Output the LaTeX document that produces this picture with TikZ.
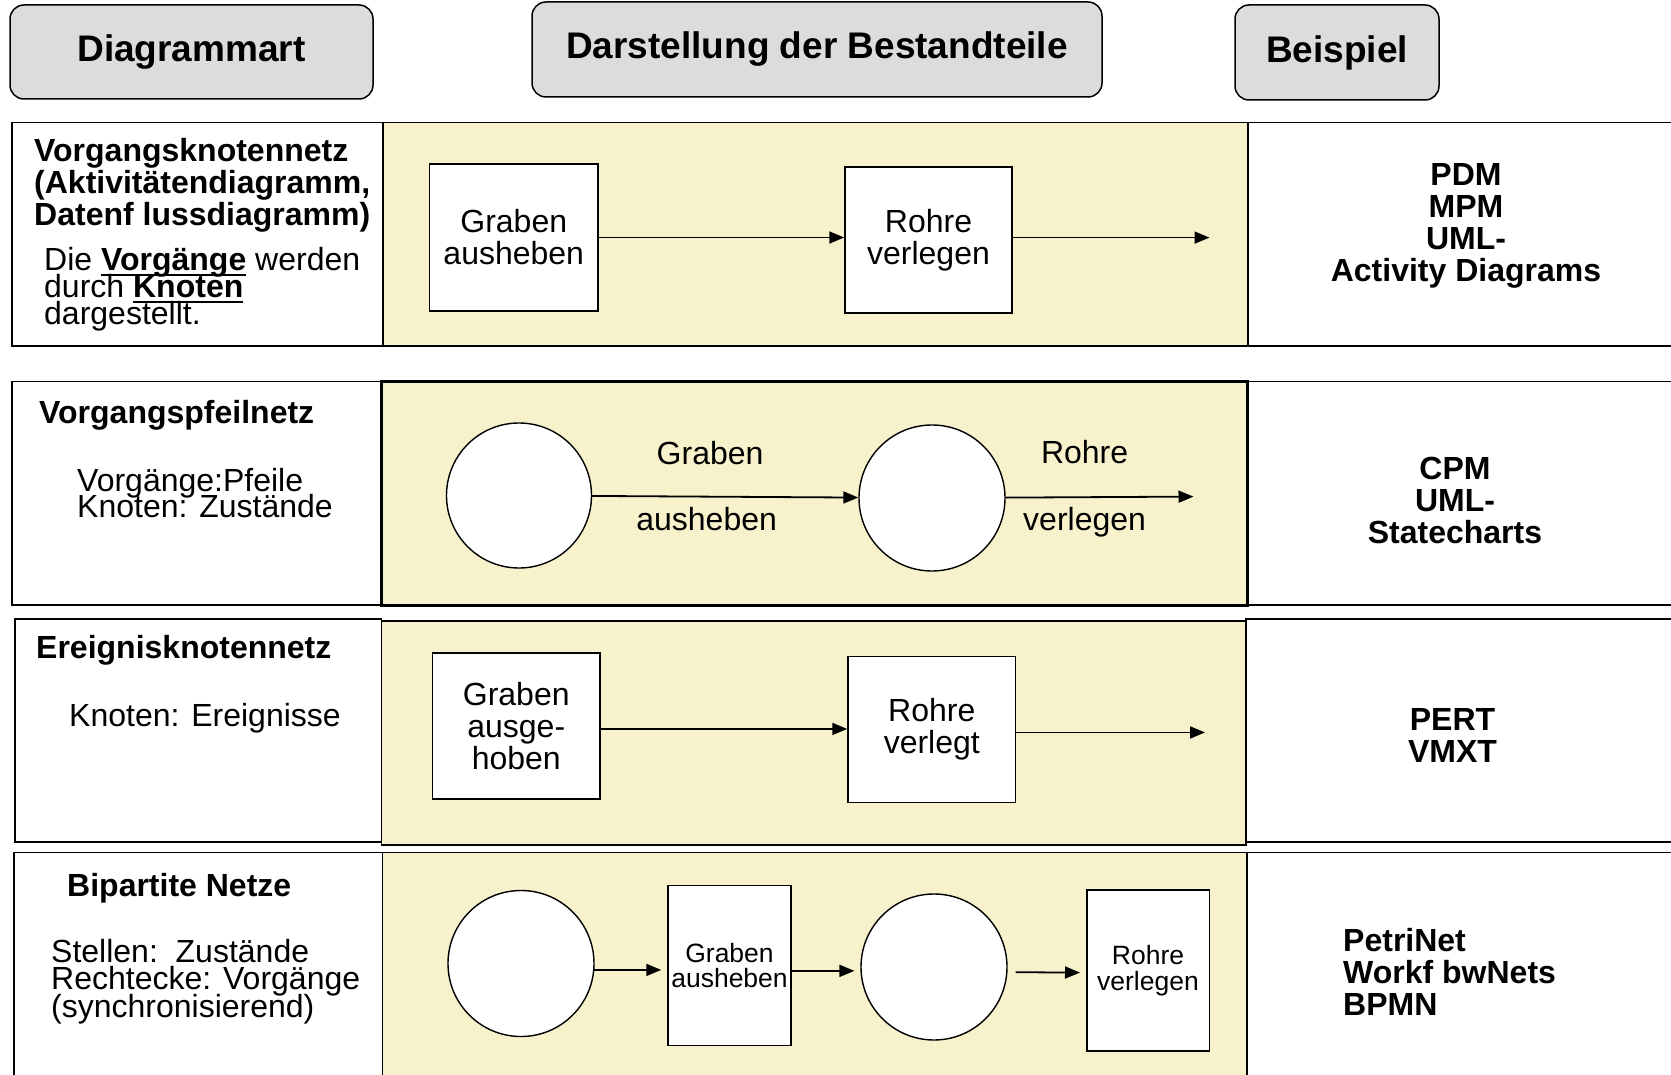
\documentclass[tikz,border=0pt]{standalone}
\usepackage{fontspec}
\setmainfont{Liberation Sans}
\usetikzlibrary{arrows.meta}
\definecolor{cellyellow}{RGB}{247,242,204}
\definecolor{headgray}{RGB}{220,220,220}
\newcommand\tightls{\lineskiplimit=-100pt\relax}
\newcommand\ulbf[1]{\setbox0\hbox{\textbf{#1}}\rlap{\rule[-5pt]{\wd0}{1.8pt}}\box0\relax}
\tightls
\begin{document}
\begin{tikzpicture}[x=1pt,y=-1pt,
  header/.style={draw, fill=headgray, rounded corners=14pt, line width=1.5pt,
    font=\fontsize{37}{40}\selectfont\bfseries},
  cell/.style={draw, line width=1.8pt},
  ycell/.style={draw, fill=cellyellow, line width=1.8pt},
  actbox/.style={draw, fill=white, line width=1.5pt, align=center, inner sep=2pt,
    font=\fontsize{32}{32}\selectfont\tightls},
  smallbox/.style={draw, fill=white, line width=1.5pt, align=center, inner sep=1pt,
    font=\fontsize{26.5}{25.6}\selectfont\tightls},
  state/.style={draw, fill=white, circle, line width=1.4pt, minimum size=146pt, inner sep=0pt},
  arr/.style={line width=1.8pt, -{Triangle[length=15pt,width=12pt]}},
  lbl/.style={inner sep=0pt, font=\fontsize{32}{32}\selectfont},
  ltitle/.style={anchor=north west, inner sep=0pt, align=left,
    font=\fontsize{32}{32}\selectfont\bfseries\tightls},
  ltext/.style={anchor=north west, inner sep=0pt, align=left,
    font=\fontsize{32}{27}\selectfont\tightls},
  rtext/.style={inner sep=0pt, align=center,
    font=\fontsize{32}{32}\selectfont\bfseries\tightls},
]
\useasboundingbox (0,0) rectangle (1671,1075);
\clip (0,0) rectangle (1671,1075);
\fill[white] (0,0) rectangle (1671,1075);

% headers
\node[header, minimum width=363pt, minimum height=94pt] (h1) at (191.5,52) {Diagrammart};
\node[header, minimum width=570pt, minimum height=95pt] (h2) at (817,49.5) {Darstellung der Bestandteile};
\node[header, minimum width=204pt, minimum height=95pt] (h3) at (1337,52.5) {Beispiel};

% table cells
\draw[cell] (12,122.5) rectangle (383,346);
\draw[ycell] (383,122.5) rectangle (1248,346);
\draw[cell] (1248,122.5) rectangle (1700,346);

\draw[cell] (12,381.5) rectangle (381.5,605);
\draw[cell] (1247,381.5) rectangle (1700,605);
\draw[ycell, line width=3pt] (381.5,381.5) rectangle (1247,605);

\draw[cell] (15,619) rectangle (381.5,842);
\draw[cell] (1246,619) rectangle (1700,842);
\draw[ycell] (381.5,621) rectangle (1246,845);

\draw[cell] (14,852.5) rectangle (382.5,1090);
\draw[ycell] (382.5,852.5) rectangle (1247,1090);
\draw[cell] (1247,852.5) rectangle (1700,1090);

% left column
\node[ltitle] (t1) at (34,138) {Vorgangsknotennetz\\(Aktivitätendiagramm,\\Datenf lussdiagramm)};
\node[ltext] (d1) at (44,247.5) {Die \ulbf{Vorgänge} werden\\durch \ulbf{Knoten}\\dargestellt.};

\node[ltitle] (t2) at (39,400.5) {Vorgangspfeilnetz};
\node[ltext, font=\fontsize{32}{26}\selectfont\tightls] (d2) at (77,468.5) {Vorgänge:Pfeile\\Knoten: Zustände};

\node[ltitle] (t3) at (36,635.5) {Ereignisknotennetz};
\node[ltext] (d3) at (69,703.5) {Knoten: Ereignisse};

\node[ltitle] (t4) at (67,873) {Bipartite Netze};
\node[ltext, font=\fontsize{32}{27.5}\selectfont\tightls] (d4) at (51,939) {Stellen:\ \ Zustände\\Rechtecke: Vorgänge\\(synchronisierend)};

% right column
\node[rtext] (r1) at (1466,226) {PDM\\MPM\\UML-\\Activity Diagrams};
\node[rtext] (r2) at (1455,500) {CPM\\UML-\\Statecharts};
\node[rtext] (r3) at (1452.5,735) {PERT\\VMXT};
\node[rtext, align=left, anchor=west] (r4) at (1343,972) {PetriNet\\Workf bwNets\\BPMN};

% row 1: Vorgangsknotennetz
\node[actbox, minimum width=168.5pt, minimum height=147pt] (b1) at (513.75,237.5) {Graben\\ausheben};
\node[actbox, minimum width=167pt, minimum height=146pt] (b2) at (928.5,240) {Rohre\\verlegen};
\coordinate (e1) at (1209.5,237.6);
\draw[arr] (b1.east) -- (b1.east -| b2.west);
\draw[arr] (b2.east |- e1) -- (e1);

% row 2: Vorgangspfeilnetz
\node[state, minimum size=145pt] (s1) at (519,495.5) {};
\node[state] (s2) at (932,498) {};
\coordinate (e2) at (1193.5,496.6);
\draw[arr] (s1) -- node[lbl, pos=.443, yshift=43.6pt] (l1) {Graben}
                   node[lbl, pos=.43, yshift=-22.4pt] (l2) {ausheben} (s2);
\draw[arr] (s2) -- node[lbl, pos=.42, yshift=45.6pt] (l3) {Rohre}
                   node[lbl, pos=.42, yshift=-25.4pt] (l4) {verlegen} (e2);

% row 3: Ereignisknotennetz
\node[actbox, minimum width=167.5pt, minimum height=146pt] (e31) at (516.25,726) {Graben\\ausge-\\hoben};
\node[actbox, minimum width=167.6pt, minimum height=146pt] (e32) at (931.8,729.5) {Rohre\\verlegt};
\coordinate (e3) at (1205,733);
\draw[arr] (e31.-2.7) -- (e31.-2.7 -| e32.west);
\draw[arr] (e32.-2.4) -- (e32.-2.4 -| e3);

% row 4: Bipartite Netze
\node[state] (p1) at (521,963.5) {};
\node[smallbox, minimum width=123pt, minimum height=160pt] (q1) at (729.5,965.5) {Graben\\ausheben};
\node[state] (p2) at (934,967) {};
\node[smallbox, minimum width=122.5pt, minimum height=161pt] (q2) at (1148,970.5) {Rohre\\verlegen};
\draw[arr, shorten >=6pt] (p1.-5) -- (p1.-5 -| q1.west);
\draw[arr, shorten >=6pt] (q1.east |- p2.183) -- (p2.183);
\draw[arr, shorten <=8pt, shorten >=6pt] (p2.-4) -- (q2.182);
\end{tikzpicture}
\end{document}
